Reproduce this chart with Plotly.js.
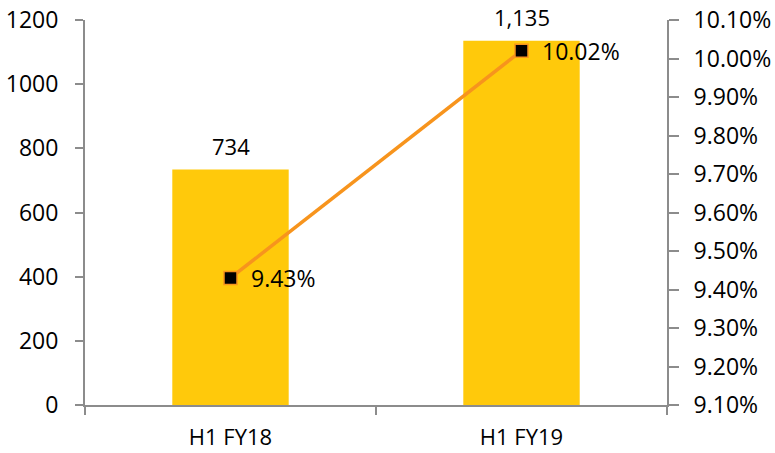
<!DOCTYPE html>
<html>
<head>
<meta charset="utf-8">
<script src="https://cdn.plot.ly/plotly-3.0.1.min.js"></script>
<style>html,body{margin:0;padding:0;background:#fff;}#chart{width:775px;height:453px;}</style>
</head>
<body>
<div id="chart"></div>
<script>
const categories = ["H1 FY18", "H1 FY19"];
const barValues = [734, 1135];
const barLabels = ["734", "1,135"];
const ratioValues = [0.0943, 0.1002];
const ratioLabels = ["9.43%", "10.02%"];

const FONT = "Open Sans, sans-serif";
const AXIS_GREY = "#8c8c8c";
const TEXT = "#000";

const traces = [
  {
    type: "bar",
    x: categories,
    y: barValues,
    width: 0.4,
    marker: {color: "#FFC90B"},
    hoverinfo: "skip"
  },
  {
    type: "scatter",
    mode: "lines+markers",
    x: categories,
    y: ratioValues,
    yaxis: "y2",
    line: {color: "#F7941D", width: 3.5},
    marker: {symbol: "square", size: 13, color: "#000000", line: {color: "#F7941D", width: 1.5}},
    hoverinfo: "skip"
  }
];

const annotations = [];
categories.forEach((c, i) => {
  annotations.push({
    x: c, y: barValues[i], xref: "x", yref: "y",
    text: barLabels[i], showarrow: false,
    xanchor: "center", yanchor: "middle", yshift: 24,
    font: {family: FONT, size: 22, color: TEXT}
  });
  annotations.push({
    x: c, y: ratioValues[i], xref: "x", yref: "y2",
    text: ratioLabels[i], showarrow: false,
    xanchor: "left", yanchor: "middle", xshift: 18,
    font: {family: FONT, size: 23, color: TEXT}
  });
});

const layout = {
  width: 775, height: 453,
  margin: {l: 85, r: 108, t: 20, b: 48},
  paper_bgcolor: "#fff", plot_bgcolor: "#fff",
  showlegend: false,
  bargap: 0.6,
  font: {family: FONT, size: 22, color: TEXT},
  xaxis: {
    type: "category",
    showline: true, linecolor: AXIS_GREY, linewidth: 2,
    ticks: "outside", tickson: "boundaries", ticklen: 8, tickcolor: AXIS_GREY, tickwidth: 2,
    tickfont: {family: FONT, size: 22, color: TEXT},
    showgrid: false, zeroline: false,
    ticklabelstandoff: 12
  },
  yaxis: {
    range: [0, 1200], dtick: 200,
    showline: true, linecolor: AXIS_GREY, linewidth: 2,
    ticks: "outside", ticklen: 8, tickcolor: AXIS_GREY, tickwidth: 2,
    tickfont: {family: FONT, size: 23, color: TEXT},
    showgrid: false, zeroline: false,
    ticklabelstandoff: 12
  },
  yaxis2: {
    overlaying: "y", side: "right",
    range: [0.091, 0.101], dtick: 0.001, tick0: 0.091,
    tickformat: ".2%",
    showline: true, linecolor: AXIS_GREY, linewidth: 2,
    ticks: "outside", ticklen: 10, tickcolor: AXIS_GREY, tickwidth: 2,
    tickfont: {family: FONT, size: 23, color: TEXT},
    showgrid: false, zeroline: false,
    ticklabelstandoff: 10
  },
  annotations: annotations
};

Plotly.newPlot("chart", traces, layout, {staticPlot: true, displayModeBar: false});
</script>
</body>
</html>
